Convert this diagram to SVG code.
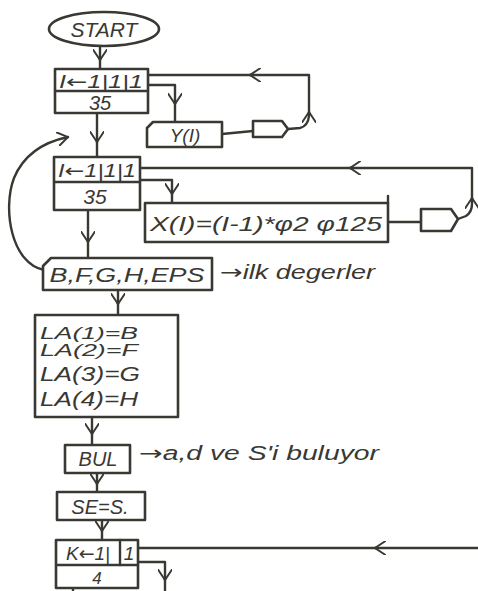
<svg xmlns="http://www.w3.org/2000/svg" width="478" height="591" viewBox="0 0 478 591">
<style>
.s{fill:none;stroke:#3a3833;stroke-width:2.4;stroke-linejoin:round;stroke-linecap:round}
.b{fill:#ffffff;stroke:#3a3833;stroke-width:2.6;stroke-linejoin:round}
.t{font-family:"Liberation Sans",Arial,sans-serif;fill:#3a3833;font-style:italic}
.r{font-family:"DejaVu Sans",sans-serif;font-style:normal}
.c{text-anchor:middle}
.e{marker-end:url(#v)}
</style>
<defs>
<marker id="v" viewBox="0 0 10 12" refX="9" refY="6" markerWidth="5" markerHeight="6" orient="auto" markerUnits="strokeWidth">
<path d="M0,0 L9,6 L0,12" fill="none" stroke="#3a3833" stroke-width="1.6"/>
</marker>
</defs>
<rect width="478" height="591" fill="#ffffff"/>
<g id="connectors">
<path class="s" d="M100,46 L100,69"/>
<path class="s e" d="M100,58 L100,60"/>
<path class="s" d="M148,85 L175,85 L175,122"/>
<path class="s e" d="M175,102 L175,104"/>
<path class="s" d="M222,134 L253,131"/>
<path class="s" d="M288,129 L300,128 Q308,126 309,116 L309,75 L148,75"/>
<path class="s e" d="M309,114 L309,112"/>
<path class="s e" d="M252,75 L250,75"/>
<path class="s" d="M97,113 L97,157"/>
<path class="s e" d="M97,140 L97,142"/>
<path class="s" d="M140,180 L172,180 L172,203"/>
<path class="s e" d="M172,192 L172,194"/>
<path class="s" d="M388,222 L421,222"/>
<path class="s" d="M458,219 L466,216 Q472,212 472,204 L472,168 L140,168"/>
<path class="s e" d="M472,200 L472,198"/>
<path class="s e" d="M352,168 L350,168"/>
<path class="s" d="M88,210 L88,258"/>
<path class="s e" d="M88,240 L88,242"/>
<path class="s e" d="M44,270 C12,264 2,210 14,178 C24,154 44,142 68,137"/>
<path class="s" d="M118,290 L118,315"/>
<path class="s e" d="M118,302 L118,304"/>
<path class="s" d="M92,417 L92,445"/>
<path class="s e" d="M92,432 L92,434"/>
<path class="s" d="M97,473 L97,492"/>
<path class="s e" d="M97,482 L97,484"/>
<path class="s" d="M102,520 L102,540"/>
<path class="s e" d="M102,529 L102,531"/>
<path class="s" d="M478,548 L138,548"/>
<path class="s e" d="M377,548 L375,548"/>
<path class="s" d="M138,562 L165,562 L165,591"/>
<path class="s e" d="M165,578 L165,580"/>
<path class="s" d="M73,588 L73,591"/>
</g>
<g id="start">
<ellipse class="b" cx="104" cy="29" rx="55" ry="17"/>
<text class="t c" x="104" y="37" font-size="21">START</text>
</g>
<g id="loop1">
<rect class="b" x="55" y="69" width="93" height="44"/>
<line class="s" x1="55" y1="91" x2="148" y2="91"/>
<text class="t c" x="101" y="88" font-size="18" textLength="84" lengthAdjust="spacingAndGlyphs">I<tspan class="r">←</tspan>1|1|1</text>
<text class="t c" x="100" y="110" font-size="20">35</text>
</g>
<g id="outY">
<polygon class="b" points="153,122 222,122 222,147 147,147 147,128"/>
<text class="t c" x="185" y="142" font-size="19">Y(I)</text>
</g>
<g id="conn1">
<polygon class="b" points="253,121 282,121 288,129 282,137 253,137"/>
</g>
<g id="loop2">
<rect class="b" x="54" y="157" width="86" height="53"/>
<line class="s" x1="54" y1="182" x2="140" y2="182"/>
<text class="t c" x="97" y="177" font-size="18" textLength="78" lengthAdjust="spacingAndGlyphs">I<tspan class="r">←</tspan>1|1|1</text>
<text class="t c" x="95" y="204" font-size="21">35</text>
</g>
<g id="calcX">
<rect class="b" x="145" y="203" width="243" height="39"/>
<line class="s" x1="388" y1="196" x2="388" y2="203"/>
<text class="t" x="150" y="231" font-size="21" textLength="232" lengthAdjust="spacingAndGlyphs">X(I)=(I-1)*φ2 φ125</text>
</g>
<g id="conn2">
<polygon class="b" points="421,209 451,209 458,219 451,231 421,231"/>
</g>
<g id="input">
<polygon class="b" points="51,258 212,258 212,290 43,290 43,266"/>
<text class="t c" x="127" y="282" font-size="20" textLength="155" lengthAdjust="spacingAndGlyphs">B,F,G,H,EPS</text>
<text class="t" x="220" y="279" font-size="20" textLength="155" lengthAdjust="spacingAndGlyphs"><tspan class="r">→</tspan>ilk degerler</text>
</g>
<g id="assignLA">
<rect class="b" x="35" y="315" width="143" height="102"/>
<text class="t" x="40" y="339" font-size="16" textLength="98" lengthAdjust="spacingAndGlyphs">LA(1)=B</text>
<text class="t" x="40" y="356" font-size="16" textLength="98" lengthAdjust="spacingAndGlyphs">LA(2)=F</text>
<text class="t" x="40" y="381" font-size="20" textLength="100" lengthAdjust="spacingAndGlyphs">LA(3)=G</text>
<text class="t" x="40" y="406" font-size="20" textLength="98" lengthAdjust="spacingAndGlyphs">LA(4)=H</text>
</g>
<g id="bul">
<rect class="b" x="65" y="445" width="65" height="28"/>
<text class="t c" x="98" y="466" font-size="20">BUL</text>
<text class="t" x="139" y="460" font-size="20" textLength="240" lengthAdjust="spacingAndGlyphs"><tspan class="r">→</tspan>a,d ve S'i buluyor</text>
</g>
<g id="se">
<rect class="b" x="57" y="492" width="88" height="28"/>
<text class="t c" x="100" y="514" font-size="20">SE=S.</text>
</g>
<g id="loopK">
<rect class="b" x="56" y="540" width="82" height="48"/>
<line class="s" x1="56" y1="565" x2="138" y2="565"/>
<line class="s" x1="120" y1="540" x2="120" y2="565"/>
<text class="t c" x="88" y="560" font-size="19">K<tspan class="r">←</tspan>1|</text>
<text class="t c" x="129" y="560" font-size="19">1</text>
<text class="t c" x="97" y="584" font-size="17">4</text>
</g>
</svg>
